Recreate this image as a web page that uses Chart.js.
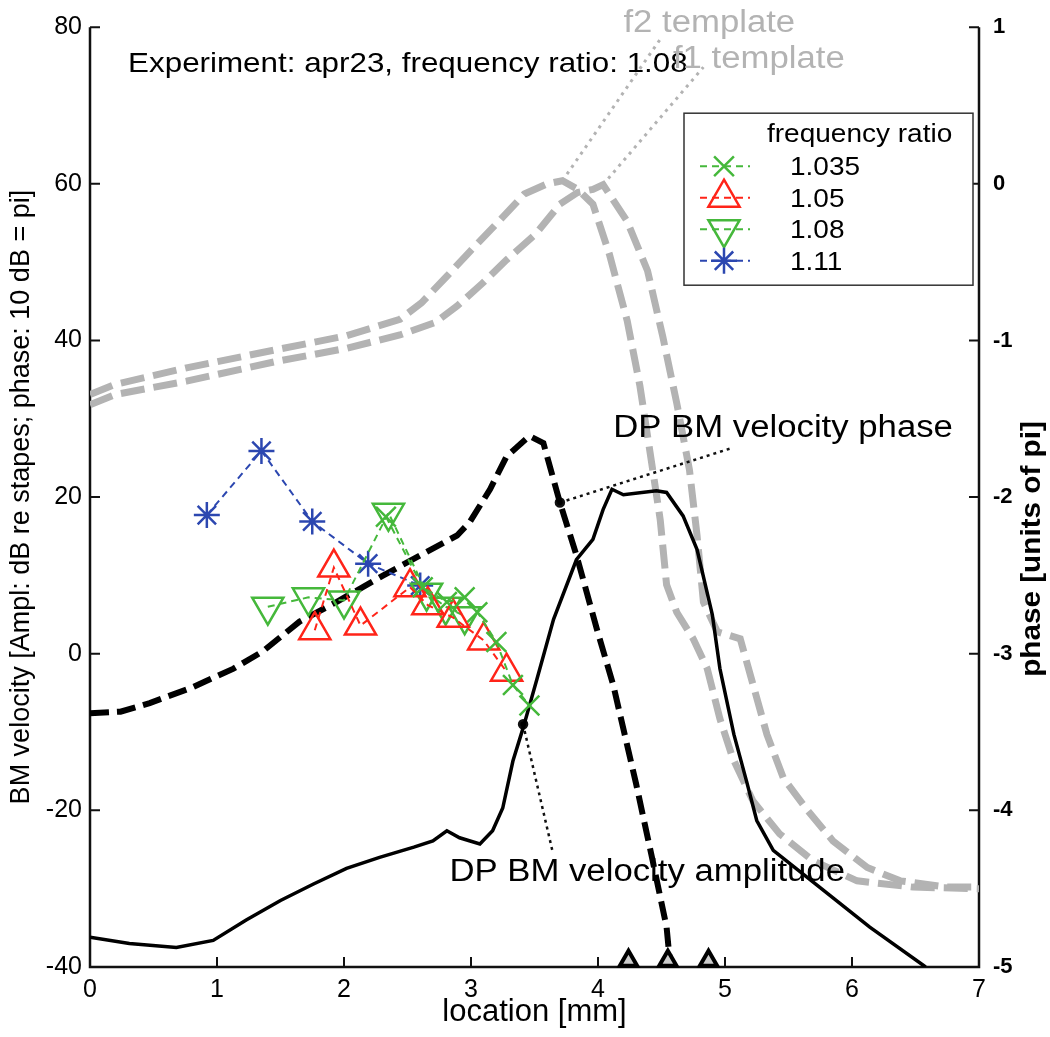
<!DOCTYPE html>
<html>
<head>
<meta charset="utf-8">
<script src="https://cdn.jsdelivr.net/npm/chart.js@4.4.1/dist/chart.umd.min.js"></script>
<style>
  html, body { margin: 0; padding: 0; background: #fff; }
</style>
</head>
<body>
<canvas id="dpChart" width="1050" height="1037"></canvas>
<script>
// axis ticks
const xTicks = [0, 1, 2, 3, 4, 5, 6, 7];
const yTicks = [-40, -20, 0, 20, 40, 60, 80];
const phaseTicks = [-5, -4, -3, -2, -1, 0, 1];

// f2 / f1 templates (gray dashed)
const f2X = [0, 0.2, 0.76, 1.46, 2.02, 2.44, 2.61, 2.81, 3.0, 3.2, 3.42, 3.6, 3.72, 3.84, 3.96, 4.09, 4.23, 4.33, 4.41, 4.49, 4.54, 4.62, 4.75, 4.86, 4.96, 5.06, 5.22, 5.43, 5.69, 6.04, 6.48, 7];
const f2Y = [33.1, 34.4, 36.5, 38.8, 40.6, 42.7, 44.8, 48.2, 51.5, 54.9, 58.7, 60.0, 60.4, 59.3, 57.4, 51.0, 42.5, 34.2, 25.7, 17.1, 8.8, 5.3, 1.9, -1.9, -8.3, -13.3, -18.8, -23.0, -26.4, -29.0, -29.8, -30.0];
const f1X = [0, 0.2, 0.76, 1.46, 2.02, 2.44, 2.72, 2.89, 3.09, 3.28, 3.51, 3.7, 3.84, 3.96, 4.04, 4.23, 4.39, 4.51, 4.62, 4.72, 4.78, 4.83, 4.94, 5.12, 5.22, 5.33, 5.46, 5.65, 5.85, 6.12, 6.38, 6.75, 7];
const f1Y = [31.8, 33.1, 34.8, 37.3, 39.0, 40.7, 42.3, 44.4, 47.3, 50.3, 53.6, 57.4, 58.9, 59.3, 59.9, 55.2, 48.9, 40.5, 32.0, 23.5, 15.1, 6.6, 2.8, 1.9, -3.9, -10.3, -15.9, -20.0, -23.9, -27.3, -29.0, -29.8, -29.8];

// DP BM velocity amplitude (solid) and phase (dashed, left-axis units)
const ampX = [0, 0.31, 0.68, 0.97, 1.23, 1.5, 1.76, 2.02, 2.28, 2.55, 2.7, 2.81, 2.91, 3.07, 3.17, 3.25, 3.33, 3.41, 3.52, 3.65, 3.83, 3.96, 4.04, 4.11, 4.2, 4.46, 4.54, 4.67, 4.78, 4.9, 4.96, 5.07, 5.17, 5.25, 5.38, 5.65, 6.14, 6.58];
const ampY = [-36.2, -37.0, -37.5, -36.6, -34.0, -31.5, -29.4, -27.4, -26.0, -24.7, -23.9, -22.6, -23.5, -24.3, -22.6, -19.7, -13.7, -9.5, -3.2, 4.4, 12.0, 14.6, 18.4, 21.0, 20.3, 20.8, 20.6, 17.6, 13.3, 5.0, -1.9, -10.3, -16.3, -21.3, -25.1, -28.6, -34.9, -40.0];
const phaseX = [0, 0.24, 0.47, 0.79, 1.13, 1.36, 1.65, 1.94, 2.31, 2.65, 2.89, 2.99, 3.15, 3.28, 3.46, 3.57, 3.7, 3.83, 3.99, 4.12, 4.3, 4.43, 4.54, 4.57];
const phaseY = [-7.6, -7.4, -6.3, -4.4, -1.9, 0.3, 4.1, 6.6, 10.0, 13.0, 15.1, 16.8, 21.0, 25.2, 27.8, 26.9, 19.3, 12.6, 3.2, -4.0, -16.6, -26.4, -34.9, -40.0];

// measured points per frequency ratio
const r1035X = [2.33, 2.62, 2.81, 2.95, 3.05, 3.2, 3.33, 3.46];
const r1035Y = [17.5, 8.5, 6.6, 7.2, 5.3, 1.5, -4.0, -6.6];
const r105X = [1.77, 1.92, 2.13, 2.52, 2.66, 2.86, 3.1, 3.28];
const r105Y = [3.0, 11.0, 3.6, 8.5, 6.2, 4.6, 1.7, -2.3];
const r108X = [1.4, 1.72, 2.0, 2.35, 2.65, 2.8, 2.95];
const r108Y = [6.0, 7.2, 6.8, 18.0, 7.8, 6.0, 4.8];
const r111X = [0.92, 1.35, 1.75, 2.19, 2.6];
const r111Y = [17.7, 25.9, 16.9, 11.5, 8.7];

// markers on the location axis
const baseMarkX = [4.24, 4.55, 4.87];
const baseMarkY = [-39.2, -39.2, -39.2];

// leader lines for the labels
const phaseLeadX = [3.7, 5.06], phaseLeadY = [19.3, 26.3];
const ampLeadX = [3.41, 3.64], ampLeadY = [-9.0, -25.1];
const f2LeadX = [3.72, 4.5], f2LeadY = [60.4, 78.7];
const f1LeadX = [4.04, 4.83], f1LeadY = [59.9, 74.9];

const legendTitle = 'frequency ratio';
const ratioLabels = ['1.035', '1.05', '1.08', '1.11'];

const pts = (xs, ys) => xs.map((v, i) => ({ x: v, y: ys[i] }));
const FONT = "'Liberation Sans', Arial, sans-serif";
const GRAY = '#b3b3b3';
const GREEN = '#45b83b';
const RED = '#ff2419';
const BLUE = '#2c47b0';

function curve(data, color, width, dash, order) {
  return { data, borderColor: color, borderWidth: width, borderDash: dash, borderCapStyle: 'butt',
           pointRadius: 0, tension: 0, fill: false, order };
}
function series(data, color, style, radius, rotation) {
  return { data, borderColor: color, borderWidth: 2, borderDash: [7, 5], tension: 0, fill: false,
           pointStyle: style, pointRadius: radius, pointRotation: rotation || 0,
           pointBorderColor: color, pointBackgroundColor: 'rgba(0,0,0,0)', pointBorderWidth: 2.5, order: 1 };
}

const datasets = [
  curve(pts(f2X, f2Y), GRAY, 7, [24, 9], 10),
  curve(pts(f1X, f1Y), GRAY, 7, [24, 9], 10),
  curve(pts(f2LeadX, f2LeadY), GRAY, 3, [3, 5], 10),
  curve(pts(f1LeadX, f1LeadY), GRAY, 3, [3, 5], 10),
  curve(pts(phaseX, phaseY), '#000', 6, [19, 8], 5),
  curve(pts(ampX, ampY), '#000', 3.5, [], 5),
  Object.assign(curve(pts(phaseLeadX, phaseLeadY), '#111', 2.5, [3, 4], 5), { pointRadius: [4, 0], pointBackgroundColor: '#000' }),
  Object.assign(curve(pts(ampLeadX, ampLeadY), '#111', 2.5, [3, 4], 5), { pointRadius: [4, 0], pointBackgroundColor: '#000' }),
  series(pts(r1035X, r1035Y), GREEN, 'crossRot', 14),
  series(pts(r105X, r105Y), RED, 'triangle', 18),
  series(pts(r108X, r108Y), GREEN, 'triangle', 18, 180),
  series(pts(r111X, r111Y), BLUE, 'star', 13),
  { data: pts(baseMarkX, baseMarkY), showLine: false, pointStyle: 'triangle', pointRadius: 10,
    pointBorderColor: '#000', pointBorderWidth: 4, pointBackgroundColor: '#ccc', clip: false, order: 0 }
];
const legendSets = [8, 9, 10, 11];

// label text anchored in data units
const notes = [
  { text: 'Experiment: apr23, frequency ratio: 1.08', x: 0.3, y: 74.3, size: 28, color: '#000' },
  { text: 'f2 template', x: 4.2, y: 79.4, size: 31, color: GRAY },
  { text: 'f1 template', x: 4.59, y: 74.8, size: 31, color: GRAY },
  { text: 'DP BM velocity phase', x: 4.12, y: 27.7, size: 31, color: '#000' },
  { text: 'DP BM velocity amplitude', x: 2.83, y: -29.0, size: 31, color: '#000' }
];

function wideText(ctx, text, px, py, sx) {
  ctx.save();
  ctx.translate(px, py);
  ctx.scale(sx, 1);
  ctx.fillText(text, 0, 0);
  ctx.restore();
}

const framePlugin = {
  id: 'framePlugin',
  beforeDatasetsDraw(chart) {
    const { ctx, chartArea: a, scales: { x, y, y2 } } = chart;
    ctx.save();
    ctx.strokeStyle = '#111';
    ctx.lineWidth = 2.5;
    ctx.beginPath();
    ctx.moveTo(a.left, a.top); ctx.lineTo(a.left, a.bottom);
    ctx.lineTo(a.right, a.bottom); ctx.lineTo(a.right, a.top);
    ctx.stroke();
    ctx.lineWidth = 2;
    ctx.beginPath();
    xTicks.forEach(v => { const p = x.getPixelForValue(v); ctx.moveTo(p, a.bottom); ctx.lineTo(p, a.bottom - 10); });
    yTicks.forEach(v => { const p = y.getPixelForValue(v); ctx.moveTo(a.left, p); ctx.lineTo(a.left + 10, p); });
    phaseTicks.forEach(v => { const p = y2.getPixelForValue(v); ctx.moveTo(a.right, p); ctx.lineTo(a.right - 10, p); });
    ctx.stroke();
    ctx.restore();
  },
  afterDatasetsDraw(chart) {
    const { ctx, chartArea: a, scales: { x, y } } = chart;
    ctx.save();
    ctx.textBaseline = 'alphabetic';
    ctx.textAlign = 'left';
    notes.forEach(n => {
      ctx.font = n.size + 'px ' + FONT;
      ctx.fillStyle = n.color;
      wideText(ctx, n.text, x.getPixelForValue(n.x), y.getPixelForValue(n.y), 1.12);
    });

    // right axis title, reads bottom to top
    ctx.save();
    ctx.translate(1033, 549);
    ctx.rotate(-Math.PI / 2);
    ctx.scale(1.1, 1);
    ctx.font = 'bold 27px ' + FONT;
    ctx.fillStyle = '#000';
    ctx.textAlign = 'center';
    ctx.textBaseline = 'middle';
    ctx.fillText('phase [units of pi]', 0, 0);
    ctx.restore();

    // legend box
    const bx = a.left + 594, by = a.top + 86, bw = 289, bh = 172;
    ctx.fillStyle = '#fff';
    ctx.fillRect(bx, by, bw, bh);
    ctx.strokeStyle = '#333';
    ctx.lineWidth = 1.5;
    ctx.strokeRect(bx, by, bw, bh);
    ctx.fillStyle = '#000';
    ctx.font = '25px ' + FONT;
    ctx.textAlign = 'left';
    wideText(ctx, legendTitle, bx + 83, by + 29, 1.12);
    legendSets.forEach((di, i) => {
      const ds = chart.data.datasets[di];
      const cy = by + 53 + i * 31.5;
      ctx.save();
      ctx.strokeStyle = ds.borderColor;
      ctx.lineWidth = 2;
      ctx.setLineDash([7, 5]);
      ctx.beginPath();
      ctx.moveTo(bx + 16, cy); ctx.lineTo(bx + 66, cy);
      ctx.stroke();
      ctx.setLineDash([]);
      ctx.fillStyle = 'rgba(0,0,0,0)';
      ctx.lineWidth = ds.pointBorderWidth;
      Chart.helpers.drawPoint(ctx, { pointStyle: ds.pointStyle, rotation: ds.pointRotation,
        radius: ds.pointRadius, borderWidth: ds.pointBorderWidth }, bx + 40, cy);
      ctx.restore();
      ctx.fillStyle = '#000';
      wideText(ctx, ratioLabels[i], bx + 106, cy + 9, 1.12);
    });
    ctx.restore();
  }
};

new Chart(document.getElementById('dpChart').getContext('2d'), {
  type: 'line',
  data: { datasets },
  options: {
    responsive: false,
    animation: false,
    devicePixelRatio: 1,
    layout: { padding: { top: 22, left: 0, right: 0, bottom: 0 } },
    plugins: { legend: { display: false }, tooltip: { enabled: false } },
    scales: {
      x: {
        type: 'linear', min: 0, max: 7,
        ticks: { stepSize: 1, color: '#000', padding: 8, font: { family: FONT, size: 25 } },
        grid: { display: false, drawTicks: false }, border: { display: false },
        title: { display: true, text: 'location [mm]', color: '#000', font: { family: FONT, size: 31 }, padding: { top: 0, bottom: 6 } },
        afterFit: s => { s.height = 70; }
      },
      y: {
        position: 'left', min: -40, max: 80,
        ticks: { stepSize: 20, color: '#000', padding: 8, font: { family: FONT, size: 25 } },
        grid: { display: false, drawTicks: false }, border: { display: false },
        title: { display: true, text: 'BM velocity [Ampl: dB re stapes; phase: 10 dB = pi]', color: '#000', font: { family: FONT, size: 27 }, padding: { top: 5, bottom: 0 } },
        afterFit: s => { s.width = 90; }
      },
      y2: {
        position: 'right', min: -5, max: 1,
        ticks: { stepSize: 1, color: '#000', padding: 14, font: { family: FONT, size: 22, weight: 'bold' } },
        grid: { display: false, drawTicks: false }, border: { display: false },
        afterFit: s => { s.width = 71; }
      }
    }
  },
  plugins: [framePlugin]
});
</script>
</body>
</html>
